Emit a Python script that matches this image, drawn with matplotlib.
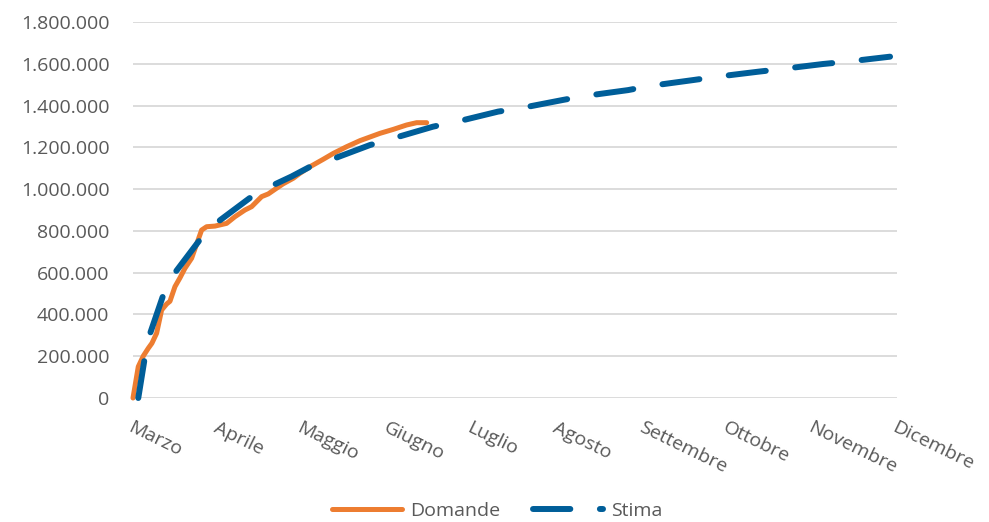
import matplotlib
matplotlib.use("Agg")
import matplotlib.pyplot as plt
from matplotlib.ticker import FuncFormatter, MultipleLocator

plt.rcParams['font.family'] = ['Open Sans', 'DejaVu Sans']

# Month labels and their start day, counted from 1 March
months = ["Marzo", "Aprile", "Maggio", "Giugno", "Luglio", "Agosto",
          "Settembre", "Ottobre", "Novembre", "Dicembre"]
month_start = [0, 31, 61, 92, 122, 153, 184, 214, 245, 275]

# Cumulative applications received (days from 1 March)
domande_day = [0.0, 1.9, 3.7, 5.5, 6.8, 8.5, 10.3, 12.1, 13.3, 15.1, 16.9,
               18.7, 21.1, 24.7, 26.5, 29.5, 33.7, 36.7, 40.3, 42.7, 46.3,
               48.7, 51.1, 54.0, 57.7, 60.1, 63.7, 68.5, 72.1, 76.9, 81.7,
               88.9, 93.7, 98.5, 102.1, 105.7]
domande_val = [0, 150000, 201000, 238000, 262000, 310000, 421000, 450000,
               463000, 533000, 575000, 621000, 669000, 804000, 820000,
               823000, 836000, 868000, 900000, 916000, 964000, 977000,
               999000, 1025000, 1052000, 1076000, 1107000, 1143000,
               1171000, 1203000, 1232000, 1267000, 1286000, 1307000,
               1318000, 1318000]

# Estimated trend through December
stima_day = [1.9, 4.3, 5.8, 10.9, 14.5, 24.1, 29.5, 42.1, 49.3, 57.0, 63.7,
             70.9, 85.3, 93.6, 108.0, 116.6, 131.4, 139.3, 154.8, 162.7,
             178.2, 186.1, 201.6, 210.2, 225.0, 233.6, 248.4, 257.0, 272.5]
stima_val = [0, 198000, 295000, 493000, 589000, 758000, 833000, 958000,
             1012000, 1060000, 1107000, 1139000, 1211000, 1243000, 1299000,
             1323000, 1371000, 1387000, 1427000, 1446000, 1474000, 1494000,
             1522000, 1538000, 1562000, 1575000, 1599000, 1610000, 1634000]

ORANGE = "#ED7D31"
BLUE = "#005E99"
TEXT = "#595959"
GRID = "#D9D9D9"

fig = plt.figure(figsize=(9.89, 5.22), dpi=100)
ax = fig.add_axes([133 / 989, 1 - 398 / 522, (897 - 133) / 989, (398 - 22) / 522])

ax.plot(domande_day, domande_val, color=ORANGE, lw=3.6, solid_capstyle="round",
        solid_joinstyle="round", clip_on=False, label="Domande", zorder=3)
ax.plot(stima_day, stima_val, color=BLUE, lw=4.3, dash_capstyle="round",
        dashes=(6.25, 4.95), clip_on=False, label="Stima", zorder=4)

ax.set_xlim(0, 275)
ax.set_ylim(0, 1800000)
ax.yaxis.set_major_locator(MultipleLocator(200000))
ax.yaxis.set_major_formatter(FuncFormatter(
    lambda v, p: f"{int(v):,}".replace(",", ".")))
ax.grid(axis="y", color=GRID, lw=1.3)
ax.set_axisbelow(True)
for s in ax.spines.values():
    s.set_visible(False)

ax.set_xticks(month_start)
ax.set_xticklabels(months, rotation=-26, ha="left", va="top",
                   rotation_mode="anchor")
ax.tick_params(axis="x", length=0, pad=15, labelsize=14, labelcolor=TEXT)
ax.tick_params(axis="y", length=0, pad=17, labelsize=14, labelcolor=TEXT)

fig.legend(loc="center", bbox_to_anchor=(0.503, 1 - 511 / 522), ncol=2,
           frameon=False, fontsize=14, labelcolor=TEXT, handlelength=3.6,
           handletextpad=0.4, columnspacing=1.7)

fig.savefig("out.png", dpi=100)
